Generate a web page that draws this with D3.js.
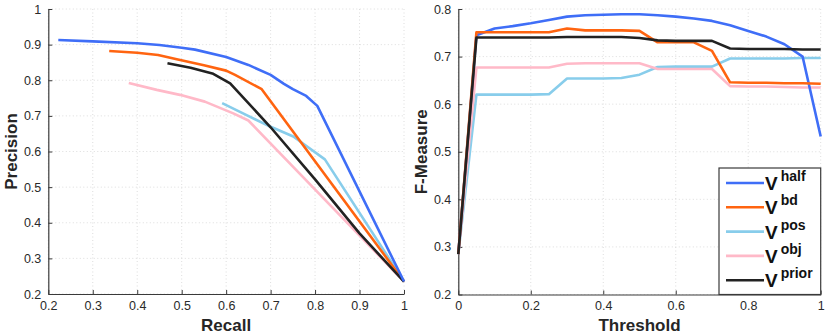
<!DOCTYPE html>
<html><head><meta charset="utf-8">
<script src="https://cdn.jsdelivr.net/npm/d3@7"></script>
<style>
body{margin:0;background:#fff;}
svg{display:block;font-family:"Liberation Sans",Arial,Helvetica,sans-serif;}
</style></head>
<body><svg id="c" width="831" height="335"></svg>
<script>
// ---------- data ----------
const seriesNames = ["half","bd","pos","obj","prior"];
const seriesColors = ["#3f6ef7","#ff6410","#88cdeb","#ffb9c8","#222222"];

// Precision-Recall curves: [recall, precision]
const prHalf  = [[0.2225,0.913],[0.3,0.909],[0.4,0.904],[0.45,0.899],[0.5,0.891],[0.53,0.886],[0.6,0.865],[0.65,0.843],[0.7,0.815],[0.73,0.790],[0.75,0.775],[0.78,0.756],[0.805,0.728],[1.0,0.235]];
const prBd    = [[0.337,0.882],[0.4,0.877],[0.447,0.871],[0.489,0.859],[0.55,0.842],[0.6,0.827],[0.62,0.815],[0.68,0.775],[1.0,0.235]];
const prPos   = [[0.591,0.736],[0.646,0.702],[0.699,0.670],[0.751,0.642],[0.822,0.578],[1.0,0.235]];
const prObj   = [[0.381,0.792],[0.444,0.773],[0.496,0.759],[0.552,0.740],[0.616,0.707],[0.650,0.687],[1.0,0.235]];
const prPrior = [[0.468,0.848],[0.52,0.835],[0.571,0.818],[0.609,0.791],[0.7,0.668],[0.8,0.522],[0.9,0.370],[1.0,0.235]];

// F-measure vs threshold
const thresholds = [0,0.05,0.1,0.15,0.2,0.25,0.3,0.35,0.4,0.45,0.5,0.55,0.6,0.65,0.7,0.75,0.8,0.85,0.9,0.95,1.0];
const fHalf  = [0.285,0.745,0.759,0.764,0.770,0.777,0.784,0.787,0.788,0.789,0.789,0.787,0.784,0.780,0.775,0.766,0.754,0.742,0.726,0.700,0.532];
const fBd    = [0.285,0.751,0.751,0.751,0.751,0.751,0.759,0.755,0.755,0.755,0.754,0.730,0.730,0.730,0.712,0.646,0.645,0.645,0.644,0.644,0.643];
const fPos   = [0.285,0.620,0.620,0.620,0.620,0.621,0.654,0.654,0.654,0.655,0.662,0.678,0.679,0.679,0.679,0.696,0.696,0.696,0.696,0.697,0.697];
const fObj   = [0.285,0.677,0.677,0.677,0.677,0.677,0.685,0.686,0.686,0.686,0.686,0.674,0.674,0.674,0.674,0.638,0.637,0.637,0.636,0.635,0.635];
const fPrior = [0.285,0.740,0.740,0.740,0.740,0.740,0.741,0.741,0.741,0.741,0.739,0.734,0.733,0.733,0.733,0.717,0.716,0.716,0.716,0.715,0.715];

const prTicksX = [0.2,0.3,0.4,0.5,0.6,0.7,0.8,0.9,1];
const prTicksY = [0.2,0.3,0.4,0.5,0.6,0.7,0.8,0.9,1];
const fTicksX = [0,0.2,0.4,0.6,0.8,1];
const fTicksY = [0.2,0.3,0.4,0.5,0.6,0.7,0.8];

// ---------- drawing ----------
const svg = d3.select("#c");
const fmt = d => String(d);

function panel(x0,x1,y0,y1,xd,yd,xt,yt,xlab,ylab,ylabX){
  const x = d3.scaleLinear().domain(xd).range([x0,x1]);
  const y = d3.scaleLinear().domain(yd).range([y1,y0]);
  const g = svg.append("g");
  // grid
  g.selectAll(".gx").data(xt).enter().append("line")
    .attr("x1",d=>x(d)).attr("x2",d=>x(d)).attr("y1",y0).attr("y2",y1)
    .attr("stroke","#d4d4d4").attr("stroke-width",0.8).attr("stroke-dasharray","1,2.5");
  g.selectAll(".gy").data(yt).enter().append("line")
    .attr("y1",d=>y(d)).attr("y2",d=>y(d)).attr("x1",x0).attr("x2",x1)
    .attr("stroke","#d4d4d4").attr("stroke-width",0.8).attr("stroke-dasharray","1,2.5");
  // axes
  const ax = g.append("g").attr("transform",`translate(0,${y1})`)
    .call(d3.axisBottom(x).tickValues(xt).tickFormat(fmt).tickSizeInner(-4).tickSizeOuter(0).tickPadding(7));
  const ay = g.append("g").attr("transform",`translate(${x0},0)`)
    .call(d3.axisLeft(y).tickValues(yt).tickFormat(fmt).tickSizeInner(-4).tickSizeOuter(0).tickPadding(7));
  [ax,ay].forEach(a=>{
    a.select(".domain").attr("stroke","#3a3a3a").attr("stroke-width",1.2);
    a.selectAll(".tick line").attr("stroke","#3a3a3a").attr("stroke-width",1);
    a.selectAll(".tick text").attr("fill","#2a2a2a").style("font-size","12.5px");
  });
  g.append("text").attr("x",(x0+x1)/2).attr("y",331).attr("text-anchor","middle")
    .style("font-size","17px").style("font-weight","bold").attr("fill","#262626").text(xlab);
  g.append("text").attr("transform",`translate(${ylabX},${(y0+y1)/2}) rotate(-90)`)
    .attr("text-anchor","middle").attr("dy","0.35em")
    .style("font-size","17px").style("font-weight","bold").attr("fill","#262626").text(ylab);
  return {x,y,g};
}

const L = panel(48.3,404,9,294,[0.2,1],[0.2,1],prTicksX,prTicksY,"Recall","Precision",11);
const R = panel(458.3,820.7,9,294.5,[0,1],[0.2,0.8],fTicksX,fTicksY,"Threshold","F-Measure",421);

const prData = [prHalf,prBd,prPos,prObj,prPrior];
const lineL = d3.line().x(d=>L.x(d[0])).y(d=>L.y(d[1]));
[3,2,1,4,0].forEach(i=>{
  L.g.append("path").attr("d",lineL(prData[i])).attr("fill","none")
    .attr("stroke",seriesColors[i]).attr("stroke-width",2.6).attr("stroke-linejoin","round");
});

const fData = [fHalf,fBd,fPos,fObj,fPrior];
const lineR = d3.line().x((d,i)=>R.x(thresholds[i])).y(d=>R.y(d));
[2,3,0,1,4].forEach(i=>{
  R.g.append("path").attr("d",lineR(fData[i])).attr("fill","none")
    .attr("stroke",seriesColors[i]).attr("stroke-width",2.6).attr("stroke-linejoin","round");
});

// legend
const lg = svg.append("g");
const lx0 = 719, ly0 = 168, lx1 = 820.7, ly1 = 294.5;
lg.append("rect").attr("x",lx0).attr("y",ly0).attr("width",lx1-lx0).attr("height",ly1-ly0)
  .attr("fill","#fff").attr("stroke","#3a3a3a").attr("stroke-width",1.2);
seriesNames.forEach((n,i)=>{
  const cy = 183 + i*24.3;
  lg.append("line").attr("x1",726).attr("x2",764).attr("y1",cy).attr("y2",cy)
    .attr("stroke",seriesColors[i]).attr("stroke-width",2.6);
  const t = lg.append("text").attr("x",765).attr("y",cy+7).attr("fill","#111")
    .style("font-weight","bold");
  t.append("tspan").style("font-size","19px").text("V");
  t.append("tspan").attr("dx",3).attr("dy",-9).style("font-size","14px").text(n);
});
</script></body></html>
